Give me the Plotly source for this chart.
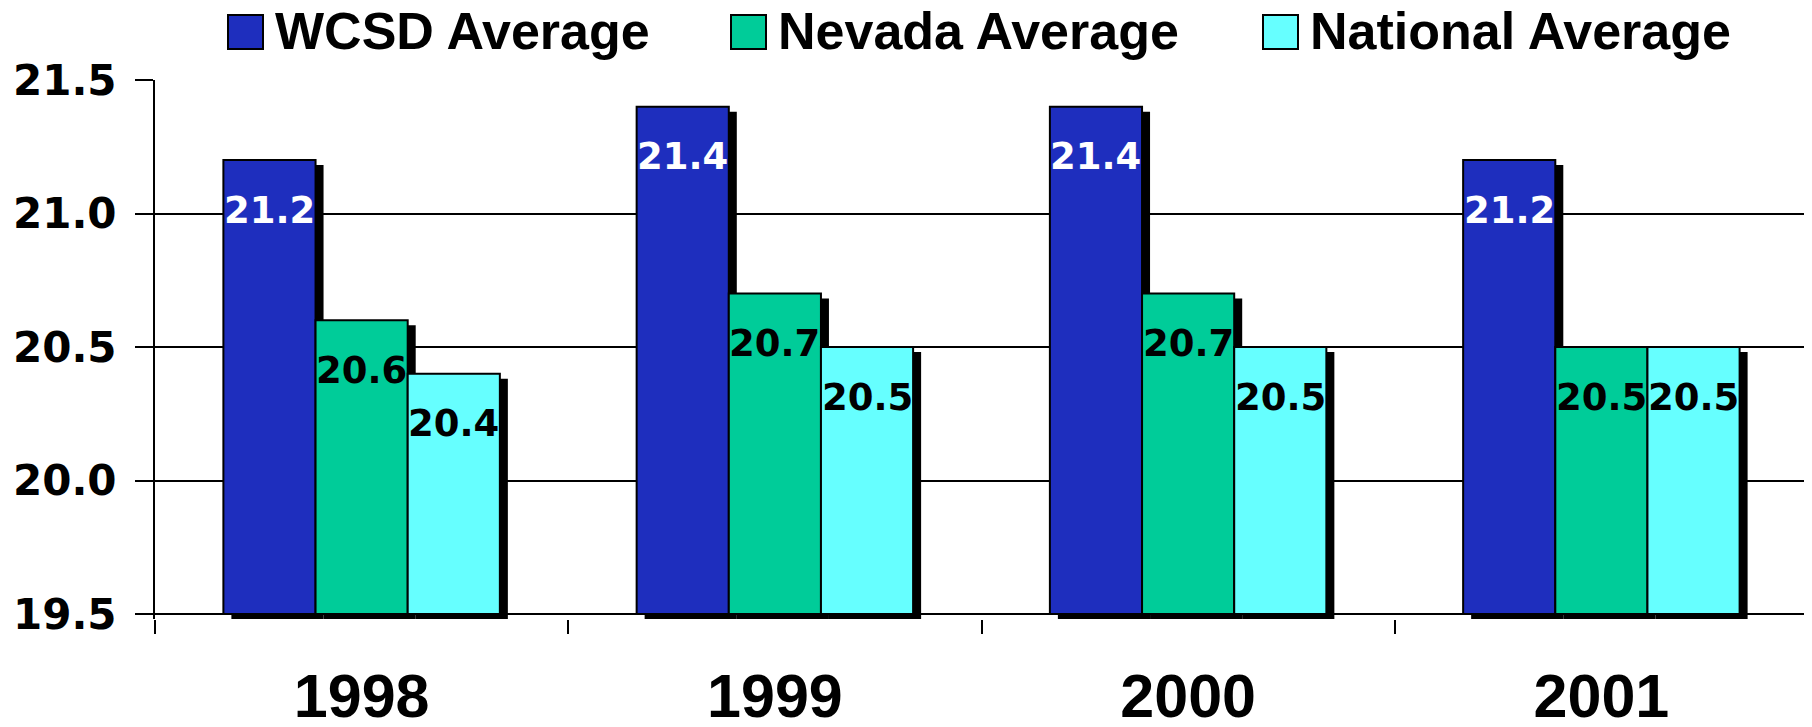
import plotly.graph_objects as go

years = ['1998', '1999', '2000', '2001']
series_names = ['WCSD Average', 'Nevada Average', 'National Average']
wcsd = [21.2, 21.4, 21.4, 21.2]
nevada = [20.6, 20.7, 20.7, 20.5]
national = [20.4, 20.5, 20.5, 20.5]
y_ticks = [19.5, 20.0, 20.5, 21.0, 21.5]

series = [wcsd, nevada, national]
colors = ['#1E2EBE', '#00CC99', '#66FFFF']
label_colors = ['white', 'black', 'black']

# the page body adds an 8px margin, so the figure is sized/offset for it
PAD = 8
W, H = 1812 - PAD, 727 - PAD
L, R, T, B = 155 - PAD, 4, 80 - PAD, 108
pw, ph = W - L - R, H - T - B

base = 19.5
bar_w = 0.223
shadow_dx = 8 / (pw / 4)      # shadow offset, in category units
shadow_dy = 5 / 267           # shadow offset, in value units


def px_x(x):
    return (x - PAD - L) / pw


def px_y(y):
    return (H - B - (y - PAD)) / ph


fig = go.Figure()

# drop shadows first so the bars sit on top
for i, vals in enumerate(series):
    off = -1.5 * bar_w + i * bar_w
    fig.add_trace(go.Bar(
        x=years, y=[v - base for v in vals], base=base - shadow_dy,
        offset=off + shadow_dx, width=bar_w,
        marker=dict(color='black', line=dict(width=0)),
        showlegend=False, hoverinfo='skip'))

for i, (name, vals) in enumerate(zip(series_names, series)):
    off = -1.5 * bar_w + i * bar_w
    fig.add_trace(go.Bar(
        x=years, y=[v - base for v in vals], base=base,
        offset=off, width=bar_w, name=name,
        marker=dict(color=colors[i], line=dict(color='black', width=2)),
        customdata=vals, hovertemplate='%{x}: %{customdata}<extra>' + name + '</extra>',
        showlegend=False))
    for j, v in enumerate(vals):
        fig.add_annotation(
            x=j + off + bar_w / 2, y=v, xref='x', yref='y',
            text=f'<b>{v:.1f}</b>', showarrow=False, yshift=-50,
            font=dict(family='DejaVu Sans', size=37, color=label_colors[i]))

# custom legend with large swatches
legend_x = [228, 731, 1263]
for i, name in enumerate(series_names):
    x0 = legend_x[i]
    fig.add_shape(type='rect', xref='paper', yref='paper',
                  x0=px_x(x0), x1=px_x(x0 + 35), y0=px_y(49), y1=px_y(15),
                  fillcolor=colors[i], line=dict(color='black', width=2))
    fig.add_annotation(xref='paper', yref='paper', x=px_x(x0 + 45), y=px_y(31),
                       xanchor='left', yanchor='middle', showarrow=False,
                       text=f'<b>{name}</b>',
                       font=dict(family='Liberation Sans', size=52, color='black'))

fig.update_layout(
    width=W, height=H,
    margin=dict(l=L, r=R, t=T, b=B, autoexpand=False),
    barmode='overlay',
    plot_bgcolor='white', paper_bgcolor='white',
    showlegend=False,
)
fig.update_xaxes(
    type='category', categoryorder='array', categoryarray=years,
    range=[-0.5, 3.5], tickson='boundaries', automargin=False,
    ticks='outside', ticklen=14, tickwidth=2, tickcolor='black',
    ticklabelstandoff=36,
    showgrid=False, showline=False, zeroline=False,
    tickfont=dict(family='Liberation Sans', size=61, color='black', weight='bold'),
)
fig.update_yaxes(
    range=[base - shadow_dy, 21.5], tickvals=y_ticks, tickformat='.1f',
    automargin=False,
    ticks='outside', ticklen=18, tickwidth=2, tickcolor='black',
    ticklabelstandoff=10,
    showgrid=True, gridcolor='black', gridwidth=2, zeroline=False,
    showline=True, linecolor='black', linewidth=2, mirror=True,
    tickfont=dict(family='DejaVu Sans', size=42, color='black', weight='bold'),
)

fig.write_html('out.html')
